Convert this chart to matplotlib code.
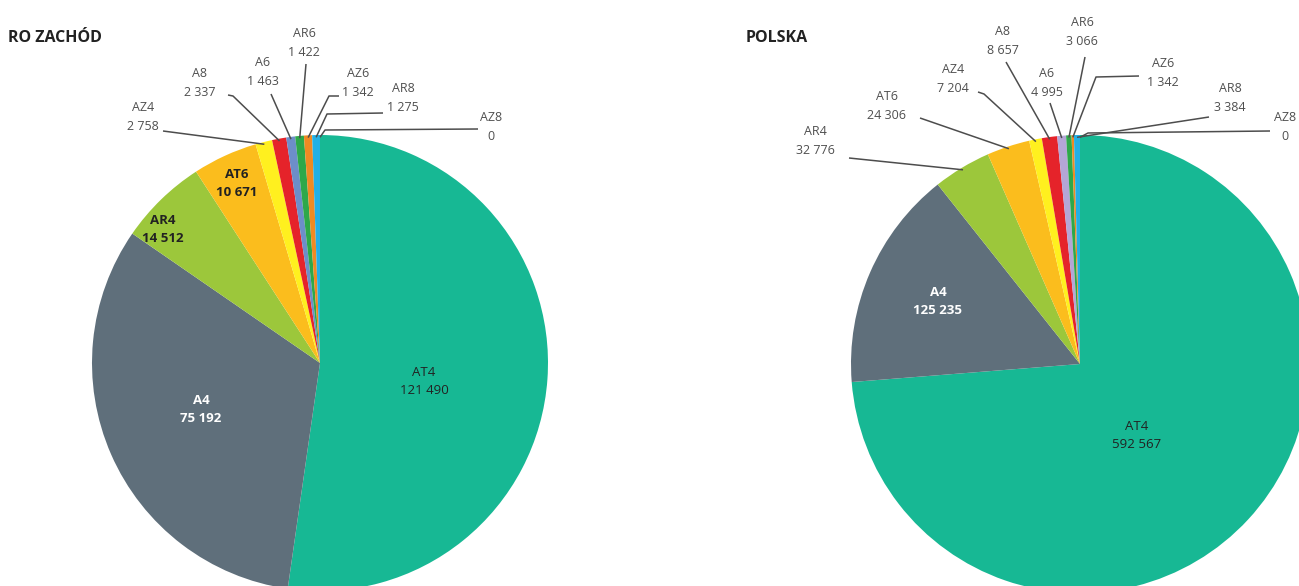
import numpy as np
import matplotlib.pyplot as plt

plt.rcParams["font.family"] = ["Open Sans", "DejaVu Sans"]

# ==========================================================
# Data
# ==========================================================

CATEGORIES = ["AT4", "A4", "AR4", "AT6", "AZ4", "A8", "A6", "AR6", "AZ6", "AR8", "AZ8"]

VALUES_ZACHOD = [121490, 75192, 14512, 10671, 2758, 2337, 1463, 1422, 1342, 1275, 0]
VALUES_POLSKA = [592567, 125235, 32776, 24306, 7204, 8657, 4995, 3066, 1342, 3384, 0]

TITLES = ["RO ZACHÓD", "POLSKA"]

COLORS_ZACHOD = ["#17b894", "#5f6f7b", "#9cc73b", "#fbbd1d", "#fff01f", "#e5232a",
                 "#6d8ec9", "#2ea84a", "#f08a23", "#22b0e5", "#22b0e5"]
COLORS_POLSKA = ["#17b894", "#5f6f7b", "#9cc73b", "#fbbd1d", "#fff01f", "#e5232a",
                 "#b4a6d6", "#2ea84a", "#f08a23", "#22b0e5", "#22b0e5"]

# ==========================================================
# Layout (pixel coordinates, y measured from the top)
# ==========================================================

W, H = 1299, 586

# inside labels: category -> (x, y, colour, bold)
INSIDE_ZACHOD = {
    "AT4": (424, 382, "#222222", False),
    "A4": (201, 410, "white", True),
    "AR4": (163, 229, "#222222", True),
    "AT6": (237, 183, "#222222", True),
}
INSIDE_POLSKA = {
    "A4": (938, 301, "white", True),
    "AT4": (1137, 436, "#222222", False),
}

# outside labels: category -> (text x, text y, [line points before the wedge])
OUTSIDE_ZACHOD = {
    "AZ4": (143, 117, [(163, 131)]),
    "A8": (200, 83, [(228, 95), (233, 96)]),
    "A6": (263, 72, [(271, 94)]),
    "AR6": (304, 43, [(306, 64)]),
    "AZ6": (358, 83, [(339, 96), (329, 96)]),
    "AR8": (403, 98, [(383, 113), (327, 114)]),
    "AZ8": (491, 127, [(478, 129), (325, 130)]),
}
OUTSIDE_POLSKA = {
    "AR4": (815, 141, [(849, 158)]),
    "AT6": (887, 106, [(920, 118)]),
    "AZ4": (953, 79, [(978, 92), (984, 94)]),
    "A8": (1003, 41, [(1006, 62)]),
    "A6": (1047, 83, [(1050, 103)]),
    "AR6": (1082, 32, [(1085, 57)]),
    "AZ6": (1163, 73, [(1139, 76), (1096, 77)]),
    "AR8": (1230, 98, [(1209, 117)]),
    "AZ8": (1285, 127, [(1270, 131), (1088, 133)]),
}


def fmt(v):
    return f"{v:,}".replace(",", " ")


def draw_pie(ax, values, colors, title, title_xy, center, radius, inside, outside):
    cx, cy = center
    wedges, _ = ax.pie(
        values,
        colors=colors,
        startangle=90,
        counterclock=False,
        center=(cx, H - cy),
        radius=radius,
        frame=True,
        wedgeprops={"linewidth": 0},
    )

    ax.text(title_xy[0], H - title_xy[1], title, fontsize=11.5, fontweight="bold",
            color="#222222", ha="left", va="center")

    for cat, (x, y, col, bold) in inside.items():
        i = CATEGORIES.index(cat)
        ax.text(x, H - y, f"{cat}\n{fmt(values[i])}", ha="center", va="center",
                fontsize=9.5, color=col, fontweight="bold" if bold else "normal",
                linespacing=1.5)

    for cat, (x, y, pts) in outside.items():
        i = CATEGORIES.index(cat)
        ax.text(x, H - y, f"{cat}\n{fmt(values[i])}", ha="center", va="center",
                fontsize=9, color="#4f4f4f", linespacing=1.55)
        w = wedges[i]
        mid = np.deg2rad((w.theta1 + w.theta2) / 2)
        ex = cx + radius * 0.99 * np.cos(mid)
        ey = (H - cy) + radius * 0.99 * np.sin(mid)
        xs = [p[0] for p in pts] + [ex]
        ys = [H - p[1] for p in pts] + [ey]
        ax.plot(xs, ys, color="#4d4d4d", linewidth=1.1, solid_capstyle="butt")


fig = plt.figure(figsize=(W / 100, H / 100), dpi=100)
ax = fig.add_axes([0, 0, 1, 1])

draw_pie(ax, VALUES_ZACHOD, COLORS_ZACHOD, TITLES[0], (8, 38),
         (320, 363), 228, INSIDE_ZACHOD, OUTSIDE_ZACHOD)
draw_pie(ax, VALUES_POLSKA, COLORS_POLSKA, TITLES[1], (746, 38),
         (1080, 364), 229, INSIDE_POLSKA, OUTSIDE_POLSKA)

ax.set_xlim(0, W)
ax.set_ylim(0, H)
ax.set_aspect("equal")
ax.axis("off")

fig.savefig("out.png", dpi=100)
